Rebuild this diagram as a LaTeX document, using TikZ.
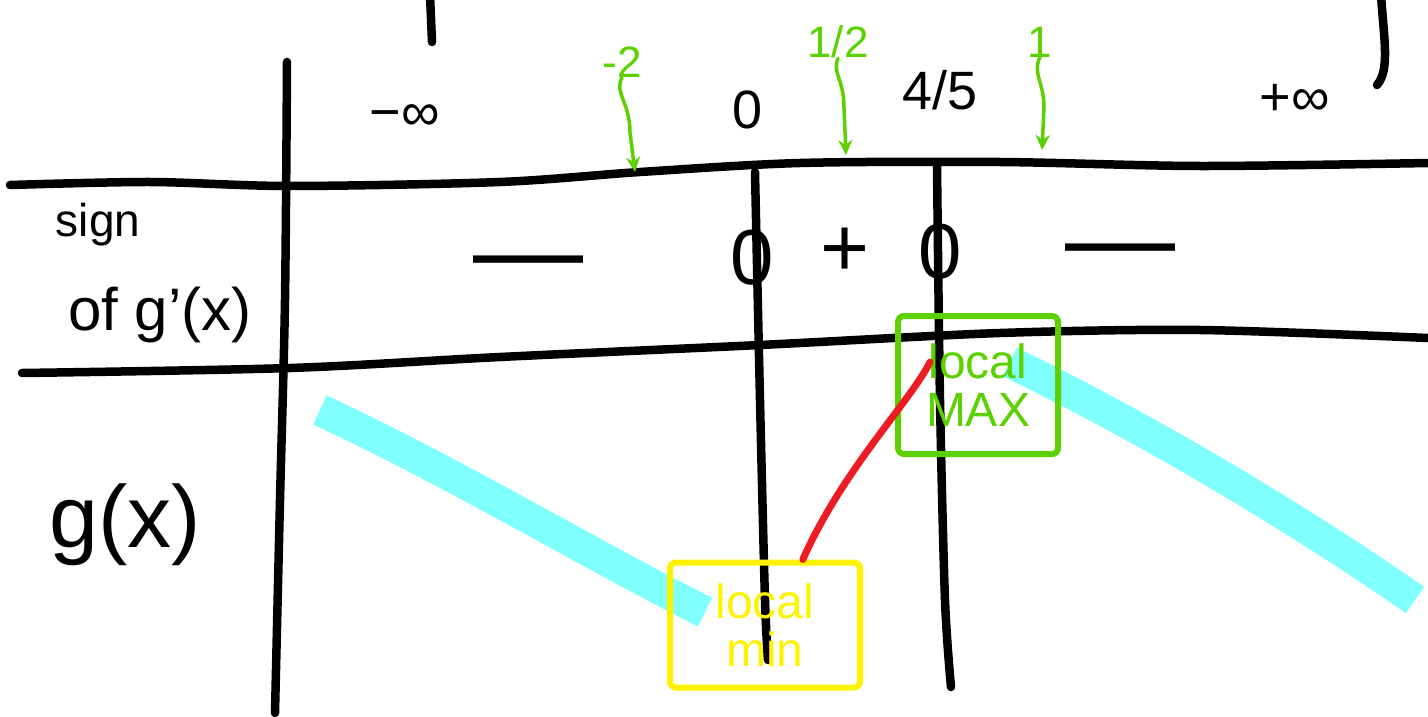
\documentclass[tikz,border=0pt]{standalone}
\usepackage{fontspec}
\setmainfont{Liberation Sans}
\usetikzlibrary{arrows.meta}
\definecolor{ink}{HTML}{000000}
\definecolor{grn}{HTML}{5BD100}
\definecolor{yel}{HTML}{FFF200}
\definecolor{aqua}{HTML}{80FFFF}
\definecolor{redl}{HTML}{ED1C24}
\newcommand{\fs}[1]{\fontsize{#1}{#1}\selectfont}
\begin{document}
\begin{tikzpicture}[x=1pt,y=-1pt,
  rule/.style={ink,line width=8.5pt,line cap=round,line join=round},
  lab/.style={ink,inner sep=0pt,font=\fs{46}},
  crit/.style={grn,inner sep=0pt,font=\fs{44}},
  hint/.style={grn,line width=3.5pt,line cap=round,-{Stealth[length=15pt,width=14pt]}},
  sgn/.style={ink,inner sep=0pt,font=\fs{110}},
  tag/.style={draw,line width=6pt,rounded corners=6pt,align=center,
    inner sep=0pt,font=\fs{48}}]
  \useasboundingbox (0,0) rectangle (1428,717);
  % strokes left of the cut-off heading
  \draw[rule] (430,-5) -- (432,42);
  \draw[rule] (1381,-5) .. controls (1384,40) and (1390,70) .. (1377,85);
  % the graph of g, under the rest
  \draw[aqua,line width=32pt] (320,410) .. controls (450,470) and (600,560) .. (705,612);
  \draw[aqua,line width=32pt] (1010,362) .. controls (1150,430) and (1300,520) .. (1415,600);
  % table rules
  \draw[rule] plot[smooth] coordinates {(10,185) (150,182) (290,186) (500,182) (640,172)
    (800,163) (1000,162) (1200,166) (1428,163)};
  \draw[rule] plot[smooth] coordinates {(22,373) (290,368) (500,357) (760,345)
    (1000,333) (1200,330) (1428,338)};
  \draw[rule] plot[smooth] coordinates {(287,62) (285,300) (280,500) (275,713)};
  \draw[rule] plot[smooth] coordinates {(755,172) (760,400) (765,600) (768,660)};
  \draw[rule] plot[smooth] coordinates {(937,165) (940,400) (945,600) (951,687)};
  % x values
  \node[lab,font=\fs{54}] (minf) at (405,118) {−∞};
  \node[lab,font=\fs{54}] (xzero) at (748,110) {0};
  \node[lab,font=\fs{54}] (xfour) at (940,90) {4/5};
  \node[lab,font=\fs{54}] (pinf) at (1295,100) {+∞};
  % test points
  \node[crit] (tmtwo) at (622,62) {-2};
  \node[crit] (thalf) at (838,42) {1/2};
  \node[crit] (tone) at (1040,42) {1};
  \coordinate (amtwo) at (635,172);
  \coordinate (ahalf) at (846,155);
  \coordinate (aone) at (1042,150);
  \draw[hint] (tmtwo.south) .. controls +(-8,15) and +(0,-30) .. +(8,55) -- (amtwo);
  \draw[hint] (thalf.south) .. controls +(-6,15) and +(0,-30) .. +(6,50) -- (ahalf);
  \draw[hint] (tone.south) .. controls +(-8,15) and +(0,-25) .. +(4,50) -- (aone);
  % sign row
  \node[sgn] (smone) at (528,272) {—};
  \node[lab,font=\fs{78}] (szero) at (752,258) {0};
  \node[lab,font=\fs{84}] (splus) at (845,252) {+};
  \node[lab,font=\fs{78}] (sfour) at (940,252) {0};
  \node[sgn] (smtwo) at (1120,260) {—};
  % row names
  \node[lab,font=\fs{46}] (nsign) at (98,225) {sign};
  \node[lab,font=\fs{60}] (nof) at (160,315) {of g'(x)};
  \node[lab,font=\fs{88}] (ng) at (125,525) {g(x)};
  % extrema
  \node[tag,yel,minimum width=190pt,minimum height=125pt] (bmin) at (765,625) {local\\min};
  \node[tag,grn,minimum width=160pt,minimum height=138pt] (bmax) at (978,385) {local\\MAX};
  \draw[redl,line width=7pt,line cap=round] (bmin.60)
    .. controls +(40,-90) and +(-20,40) .. ([shift={(-48,-23)}]bmax.center);
\end{tikzpicture}
\end{document}
